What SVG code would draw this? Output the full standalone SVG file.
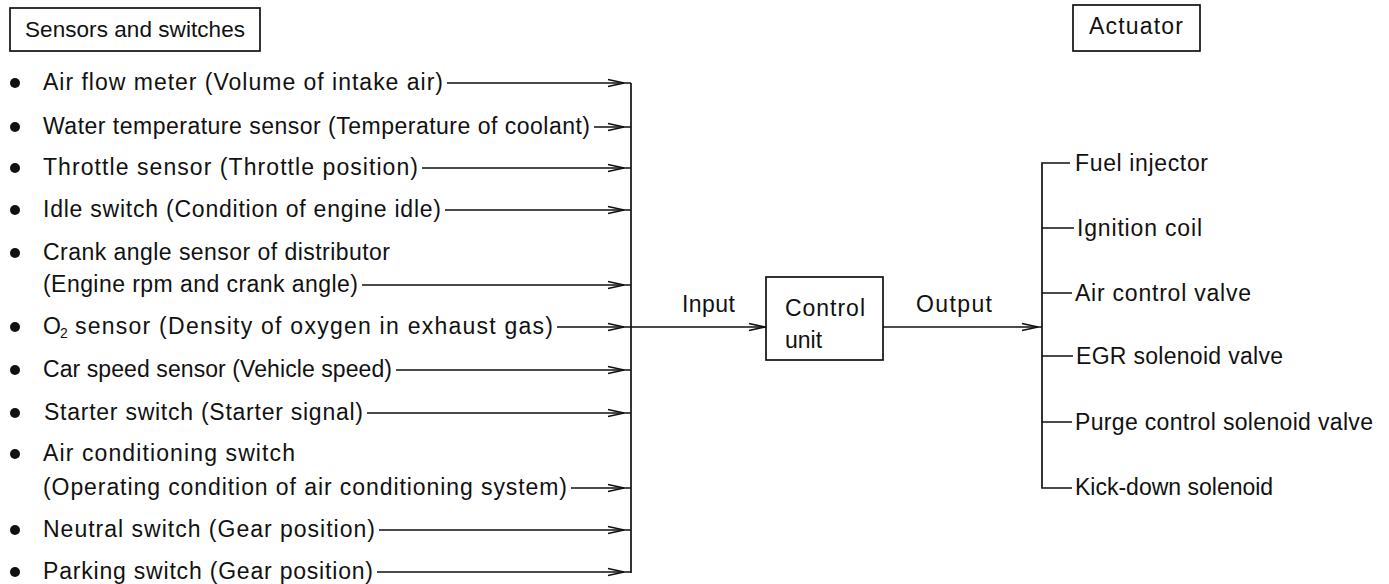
<svg xmlns="http://www.w3.org/2000/svg" xmlns:xlink="http://www.w3.org/1999/xlink" width="1389" height="584" viewBox="0 0 1389 584">
<style>
text{font-family:"Liberation Sans",Arial,sans-serif;font-size:23px;fill:#111}
.hd{font-size:22.5px}
.sub{font-size:14px}
.ln{stroke:#111;stroke-width:1.7;fill:none}
.box{stroke:#111;stroke-width:1.7;fill:#fff}
.dot{fill:#111}
</style>
<defs>
<path id="ah" d="M-16,-3.5 L0,0 L-16,3.5" stroke="#111" stroke-width="1.7" fill="none"/>
</defs>
<g id="header-sensors"><rect class="box" x="10" y="8" width="250" height="43"/><text class="hd" x="25" y="37" textLength="220">Sensors and switches</text></g>
<g id="header-actuator"><rect class="box" x="1073" y="5" width="127" height="46"/><text x="1089" y="34" textLength="94">Actuator</text></g>
<g id="sensors">
<g id="s1"><circle class="dot" cx="15" cy="83" r="5"/><text x="43" y="90" textLength="400">Air flow meter (Volume of intake air)</text></g>
<g id="s2"><circle class="dot" cx="15" cy="127" r="5"/><text x="43" y="134" textLength="547">Water temperature sensor (Temperature of coolant)</text></g>
<g id="s3"><circle class="dot" cx="15" cy="168" r="5"/><text x="43" y="175" textLength="375">Throttle sensor (Throttle position)</text></g>
<g id="s4"><circle class="dot" cx="15" cy="210" r="5"/><text x="43" y="217" textLength="398">Idle switch (Condition of engine idle)</text></g>
<g id="s5"><circle class="dot" cx="15" cy="253" r="5"/><text x="43" y="260" textLength="347">Crank angle sensor of distributor</text><text x="43" y="292" textLength="315">(Engine rpm and crank angle)</text></g>
<g id="s6"><circle class="dot" cx="15" cy="327" r="5"/><text x="43" y="334">O</text><text class="sub" x="60" y="338">2</text><text x="75" y="334" textLength="478">sensor (Density of oxygen in exhaust gas)</text></g>
<g id="s7"><circle class="dot" cx="15" cy="370" r="5"/><text x="43" y="377" textLength="349">Car speed sensor (Vehicle speed)</text></g>
<g id="s8"><circle class="dot" cx="15" cy="413" r="5"/><text x="44" y="420" textLength="319">Starter switch (Starter signal)</text></g>
<g id="s9"><circle class="dot" cx="15" cy="454" r="5"/><text x="43" y="461" textLength="252">Air conditioning switch</text><text x="43" y="495" textLength="524">(Operating condition of air conditioning system)</text></g>
<g id="s10"><circle class="dot" cx="15" cy="530" r="5"/><text x="43" y="537" textLength="332">Neutral switch (Gear position)</text></g>
<g id="s11"><circle class="dot" cx="15" cy="572" r="5"/><text x="43" y="579" textLength="330">Parking switch (Gear position)</text></g>
</g>
<g id="control-unit"><rect class="box" x="766" y="277" width="117" height="83"/><text x="785" y="316" textLength="80">Control</text><text x="785" y="348">unit</text></g>
<g id="actuators">
<text x="1075" y="171" textLength="133">Fuel injector</text>
<text x="1077" y="236" textLength="125">Ignition coil</text>
<text x="1075" y="301" textLength="176">Air control valve</text>
<text x="1076" y="364" textLength="207">EGR solenoid valve</text>
<text x="1075" y="430" textLength="298">Purge control solenoid valve</text>
<text x="1075" y="495">Kick-down solenoid</text>
</g>
<g id="labels"><text x="682" y="312" textLength="53">Input</text><text x="916" y="312" textLength="76">Output</text></g>
<g id="connectors">
<path class="ln" d="M631,83 V573"/>
<path class="ln" d="M447,83 H631 M594,127 H631 M422,168 H631 M445,210 H631 M362,285 H631 M557,327 H766 M396,370 H631 M367,413 H631 M571,488 H631 M379,530 H631 M377,572 H631"/>
<use xlink:href="#ah" x="624" y="83"/><use xlink:href="#ah" x="624" y="127"/><use xlink:href="#ah" x="624" y="168"/><use xlink:href="#ah" x="624" y="210"/><use xlink:href="#ah" x="624" y="285"/><use xlink:href="#ah" x="624" y="327"/><use xlink:href="#ah" x="624" y="370"/><use xlink:href="#ah" x="624" y="413"/><use xlink:href="#ah" x="624" y="488"/><use xlink:href="#ah" x="624" y="530"/><use xlink:href="#ah" x="624" y="572"/>
<use xlink:href="#ah" x="765" y="327"/>
<path class="ln" d="M883,327 H1042"/>
<use xlink:href="#ah" x="1038" y="327"/>
<path class="ln" d="M1070,163 H1042 V488 H1072 M1042,228 H1074 M1042,293 H1072 M1042,356 H1073 M1042,422 H1072"/>
</g>
</svg>
